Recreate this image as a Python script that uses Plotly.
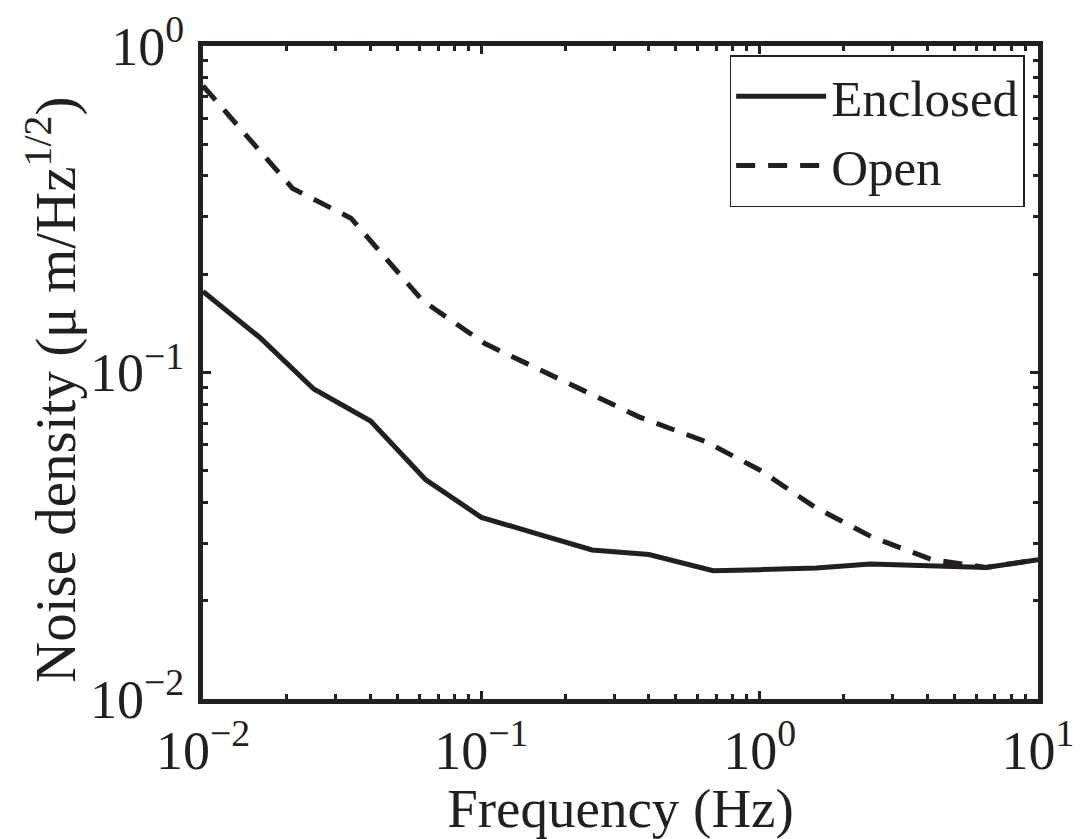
import plotly.graph_objects as go

# ---- data ----
enclosed_freq = [0.01, 0.016, 0.025, 0.04, 0.063, 0.1, 0.16, 0.25, 0.4, 0.68,
                 1.0, 1.6, 2.5, 4.0, 6.5, 10.0]
enclosed_noise = [0.177, 0.128, 0.089, 0.071, 0.047, 0.036, 0.032, 0.0286, 0.0277,
                  0.0247, 0.0249, 0.0252, 0.0259, 0.0257, 0.0253, 0.0267]

open_freq = [0.01, 0.021, 0.034, 0.0615, 0.103, 0.19, 0.37, 0.635, 1.0, 1.57,
             2.52, 4.17, 5.4, 6.5, 10.0]
open_noise = [0.755, 0.366, 0.297, 0.166, 0.1226, 0.096, 0.073, 0.0616, 0.0503,
              0.0388, 0.0314, 0.0267, 0.0258, 0.0253, 0.0267]

x_tickvals = [0.01, 0.1, 1, 10]
x_ticktext = ["10<sup>−2</sup>", "10<sup>−1</sup>", "10<sup>0</sup>", "10<sup>1</sup>"]
y_tickvals = [0.01, 0.1, 1]
y_ticktext = ["10<sup>−2</sup>", "10<sup>−1</sup>", "10<sup>0</sup>"]

x_title = "Frequency (Hz)"
y_title = "Noise density (μ m/Hz<sup>1/2</sup>)"

INK = "#231f20"
FONT = "Liberation Serif"

fig = go.Figure()
fig.add_trace(go.Scatter(x=enclosed_freq, y=enclosed_noise, mode="lines",
                         name="Enclosed", line=dict(color=INK, width=5)))
fig.add_trace(go.Scatter(x=open_freq, y=open_noise, mode="lines",
                         name="Open", line=dict(color=INK, width=5, dash="19px,13px")))

x_minor = [k * 10 ** e for e in (-2, -1, 0) for k in range(2, 10)]
y_minor = [k * 10 ** e for e in (-2, -1) for k in range(2, 10)]

axis_common = dict(
    showline=True, linecolor=INK, linewidth=5, mirror="ticks",
    ticks="inside", ticklen=8, tickwidth=3, tickcolor=INK,
    showgrid=False, zeroline=False,
    tickfont=dict(family=FONT, size=54, color=INK),
)

fig.update_xaxes(type="log", range=[-2, 1], tickvals=x_tickvals, ticktext=x_ticktext,
                 minor=dict(ticks="inside", ticklen=5, tickwidth=3, tickcolor=INK,
                            tickvals=x_minor, showgrid=False),
                 title=dict(text=x_title, font=dict(family=FONT, size=55, color=INK),
                            standoff=4),
                 **axis_common)
fig.update_yaxes(type="log", range=[-2, 0], tickvals=y_tickvals, ticktext=y_ticktext,
                 minor=dict(ticks="inside", ticklen=5, tickwidth=3, tickcolor=INK,
                            tickvals=y_minor, showgrid=False),
                 ticklabelstandoff=3,
                 **axis_common)

L, R, T, B = 203, 46, 46, 140
W, H = 1084, 839
pw, ph = W - L - R, H - T - B

fig.add_annotation(text=y_title, textangle=-90, showarrow=False,
                   xref="paper", yref="paper",
                   x=(51 - L) / pw, y=(H - B - 390) / ph,
                   xanchor="center", yanchor="middle",
                   font=dict(family=FONT, size=57, color=INK))

fig.update_layout(
    width=W, height=H,
    margin=dict(l=L, r=R, t=T, b=B, autoexpand=False),
    paper_bgcolor="white", plot_bgcolor="white",
    font=dict(family=FONT, color=INK),
    legend=dict(x=0.984, y=0.986, xanchor="right", yanchor="top",
                bgcolor="white", bordercolor=INK, borderwidth=1.5,
                font=dict(family=FONT, size=51, color=INK),
                itemwidth=90, tracegroupgap=0),
    showlegend=True,
)

fig.write_html("out.html")
